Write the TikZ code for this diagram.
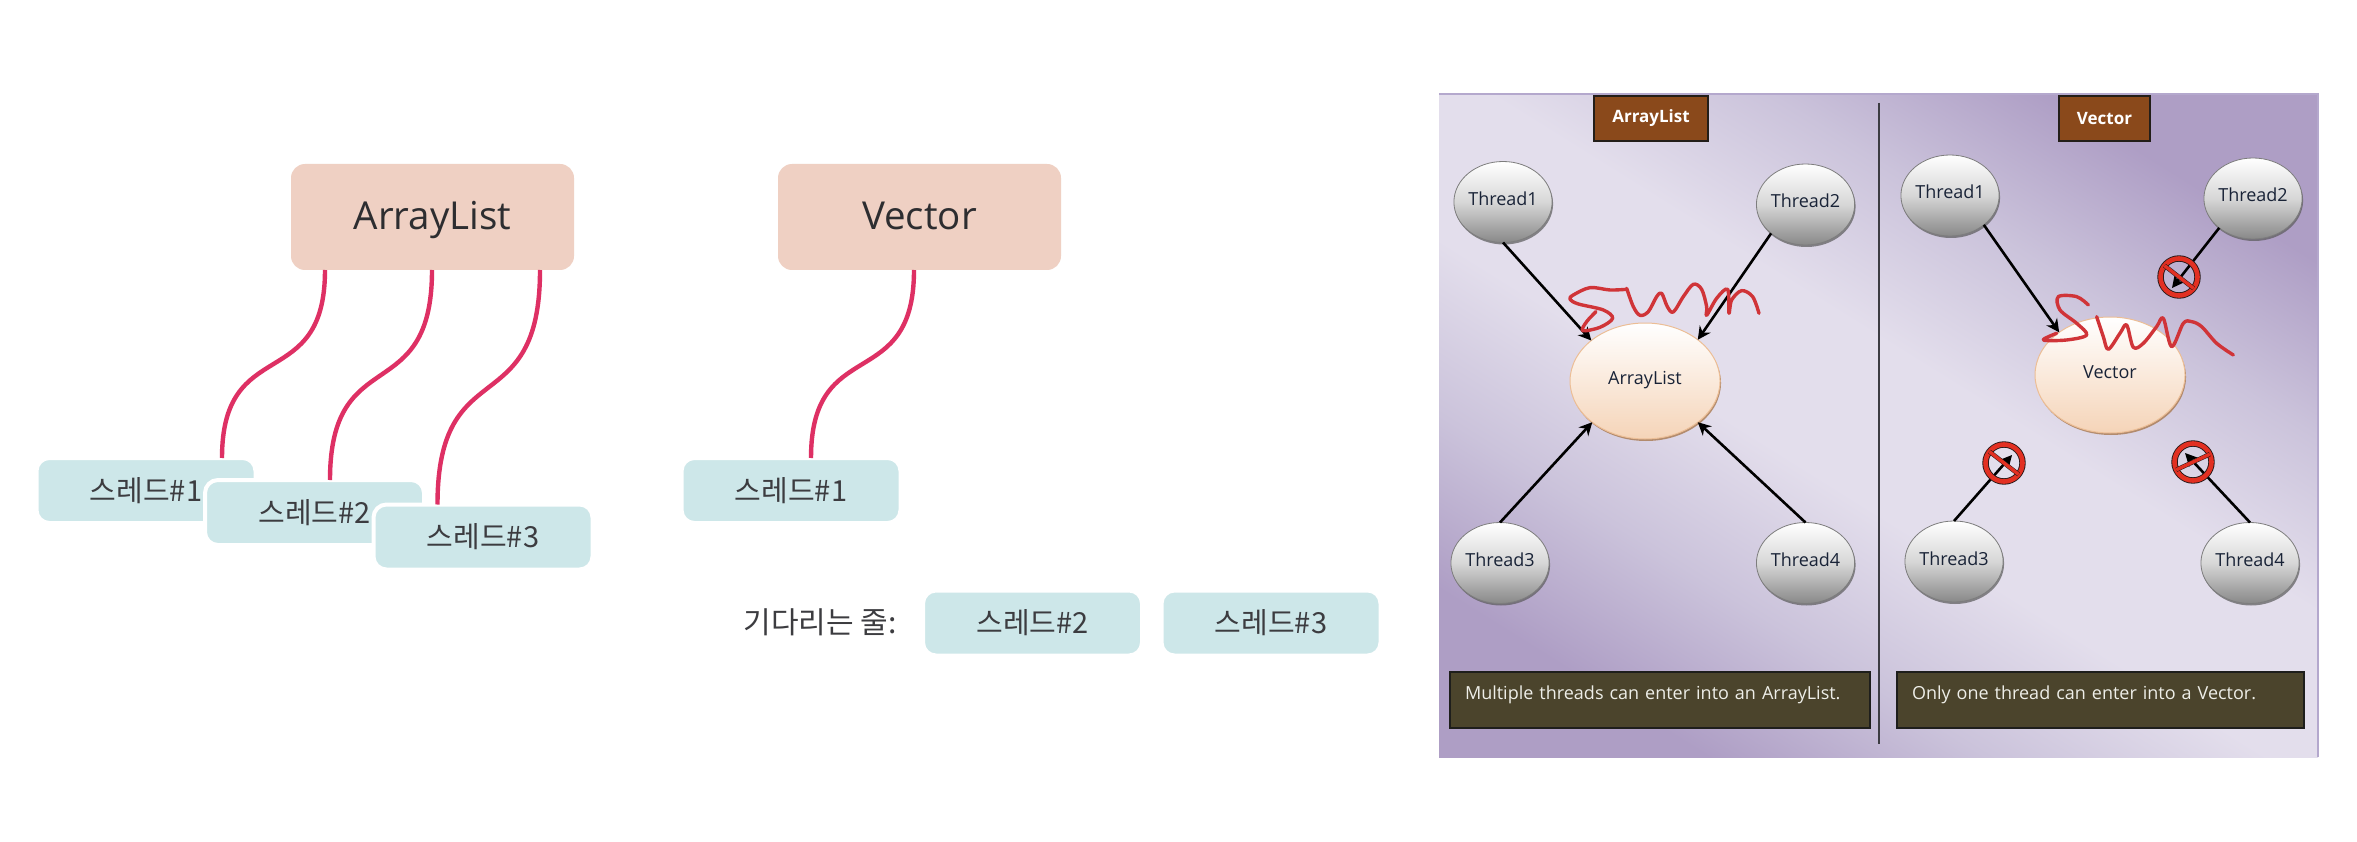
\documentclass[tikz,border=0pt]{standalone}
\usepackage{fontspec}
\usetikzlibrary{shapes.geometric,arrows.meta,shadows}
\newfontfamily\osf{Open Sans}
\newfontfamily\krf{Noto Sans CJK KR}
\definecolor{pdark}{HTML}{AE9EC5}
\definecolor{pmid}{HTML}{CBC3DB}
\definecolor{plight}{HTML}{E3DEEC}
\pgfdeclareverticalshading{panelbg}{100bp}{color(0bp)=(pdark); color(25bp)=(pdark); color(35bp)=(pmid); color(45bp)=(plight); color(55bp)=(plight); color(65bp)=(pmid); color(75bp)=(pdark); color(100bp)=(pdark)}
\tikzset{
  x=1pt,y=-1pt,
  titlebox/.style={rectangle,rounded corners=14pt,fill={rgb,255:red,239;green,208;blue,195},inner sep=0pt,outer sep=0pt,minimum width=283pt,minimum height=106pt,text height=32pt,text depth=6pt,text={rgb,255:red,45;green,45;blue,48},font=\osf\fontsize{38.5}{40}\selectfont},
  threadbox/.style={rectangle,rounded corners=13pt,fill={rgb,255:red,205;green,231;blue,233},draw=white,line width=4pt,inner sep=0pt,outer sep=0pt,minimum width=219pt,minimum height=65pt,text={rgb,255:red,60;green,60;blue,64},font=\krf\fontsize{29}{31}\selectfont},
  waitlabel/.style={inner sep=0pt,text={rgb,255:red,60;green,60;blue,64},font=\krf\fontsize{30}{32}\selectfont},
  wire/.style={draw={rgb,255:red,222;green,48;blue,100},line width=4.4pt},
  panelbox/.style={rectangle,inner sep=0pt,outer sep=0pt,minimum width=879pt,minimum height=663pt,shading=panelbg,shading angle=-32},
  paneledge/.style={draw={rgb,255:red,180;green,168;blue,205},line width=1.2pt},
  divider/.style={draw={rgb,255:red,60;green,60;blue,66},line width=1.6pt},
  tagbox/.style={rectangle,inner sep=0pt,outer sep=0pt,fill={rgb,255:red,138;green,73;blue,27},draw={rgb,255:red,35;green,30;blue,25},line width=1.2pt,minimum height=45pt,text=white,font=\osf\bfseries\fontsize{17}{19}\selectfont},
  ball/.style={ellipse,inner sep=0pt,outer sep=0pt,minimum width=95pt,minimum height=81pt,top color=white,bottom color={rgb,255:red,136;green,136;blue,136},middle color={rgb,255:red,215;green,215;blue,215},draw={rgb,255:red,125;green,125;blue,125},line width=.8pt,text height=13pt,text depth=6pt,text={rgb,255:red,25;green,35;blue,55},font=\osf\fontsize{18}{20}\selectfont,drop shadow={shadow xshift=1pt,shadow yshift=-2pt,fill={rgb,255:red,90;green,90;blue,90},opacity=.7}},
  hub/.style={ellipse,inner sep=0pt,outer sep=0pt,minimum width=150pt,minimum height=116pt,top color=white,bottom color={rgb,255:red,245;green,212;blue,184},draw={rgb,255:red,236;green,190;blue,150},line width=1pt,text height=13pt,text depth=6pt,text={rgb,255:red,25;green,35;blue,55},font=\osf\fontsize{18}{20}\selectfont,drop shadow={shadow xshift=1pt,shadow yshift=-2pt,fill={rgb,255:red,165;green,115;blue,70},opacity=.75}},
  caption/.style={rectangle,anchor=west,outer sep=0pt,inner ysep=0pt,inner xsep=15pt,align=left,text height=6pt,text depth=8pt,fill={rgb,255:red,75;green,68;blue,44},draw={rgb,255:red,30;green,30;blue,28},line width=1.2pt,minimum height=56pt,text={rgb,255:red,238;green,238;blue,232},font=\osf\fontsize{18}{20}\selectfont},
  flow/.style={draw=black,line width=2.6pt,-{Stealth[length=13pt,width=13pt]}},
  nosign/.style={ellipse,inner sep=0pt,outer sep=0pt,draw={rgb,255:red,40;green,25;blue,25},double={rgb,255:red,226;green,48;blue,34},double distance=4.6pt,line width=.9pt,minimum width=37pt,minimum height=37pt},
  nobar/.style={draw={rgb,255:red,40;green,25;blue,25},double={rgb,255:red,226;green,48;blue,34},double distance=3.4pt,line width=.5pt},
  scribble/.style={draw={rgb,255:red,208;green,52;blue,56},line width=3.4pt,line cap=round,line join=round}
}
\begin{document}
\begin{tikzpicture}
\useasboundingbox (0,0) rectangle (2357,842);
\fill[white] (0,0) rectangle (2357,842);
% left diagrams
\node[titlebox] (al) at (432.5,217) {ArrayList};
\node[titlebox] (vc) at (919.5,217) {Vector};
\node[threadbox] (a1) at (146,490.5) {스레드\#1};
\node[threadbox] (a2) at (314.5,512.5) {스레드\#2};
\node[threadbox] (a3) at (483,537) {스레드\#3};
\node[threadbox] (v1) at (791,490.5) {스레드\#1};
\node[waitlabel] (wl) at (820,622) {기다리는 줄:};
\node[threadbox] (q2) at (1032.5,623) {스레드\#2};
\node[threadbox] (q3) at (1271,623) {스레드\#3};
\draw[wire] ([xshift=-107.5pt]al.south) .. controls +(0,125) and +(0,-125) .. ([xshift=76pt]a1.north);
\draw[wire] ([xshift=-0.5pt]al.south) .. controls +(0,140) and +(0,-140) .. ([xshift=15.5pt]a2.north);
\draw[wire] ([xshift=107.5pt]al.south) .. controls +(0,155) and +(0,-155) .. ([xshift=-45.5pt]a3.north);
\draw[wire] ([xshift=-5.5pt]vc.south) .. controls +(0,125) and +(0,-125) .. ([xshift=20pt]v1.north);
% right panel
\node[panelbox] (bg) at (1878.5,425.5) {};
\draw[paneledge] (bg.north west) -- (bg.north east) -- (bg.south east);
\coordinate (dtop) at (1879,103);
\coordinate (dbot) at (1879,744);
\draw[divider] (dtop) -- (dbot);
\node[tagbox,minimum width=114pt] (tl) at (1651,118.5) {ArrayList};
\node[tagbox,minimum width=91pt] (tv) at (2104.5,118.5) {Vector};
\node[ball] (lt1) at (1503,202) {Thread1};
\node[ball] (lt2) at (1805.5,204.5) {Thread2};
\node[ball] (lt3) at (1500,563) {Thread3};
\node[ball] (lt4) at (1805.5,563) {Thread4};
\node[hub] (lh) at (1645,381) {ArrayList};
\draw[flow] (lt1.south) -- (lh.143);
\draw[flow] (lt2.220) -- (lh.38);
\draw[flow] (lt3.north) -- (lh.218);
\draw[flow] (lt4.north) -- (lh.322);
\node[caption,minimum width=420pt,text width=390pt] (lc) at (1450,700) {Multiple threads can enter into an ArrayList.};
\node[ball] (rt1) at (1950,195.5) {Thread1};
\node[ball] (rt2) at (2253,198.5) {Thread2};
\node[ball] (rt3) at (1954,561.5) {Thread3};
\node[ball] (rt4) at (2250,563) {Thread4};
\node[hub] (rh) at (2110,375) {Vector};
\coordinate (tip2) at (2172,288);
\coordinate (tip3) at (2012,455);
\coordinate (tip4) at (2185,453);
\draw[flow] (rt1.319) -- (rh.140);
\draw[flow] (rt2.221) -- (tip2);
\draw[flow] (rt3.north) -- (tip3);
\draw[flow] (rt4.north) -- (tip4);
\node[nosign] (n2) at (2179,277) {};
\draw[nobar] (n2.142) -- (n2.322);
\node[nosign] (n3) at (2004,463) {};
\draw[nobar] (n3.142) -- (n3.322);
\node[nosign] (n4) at (2193,462) {};
\draw[nobar] (n4.205) -- (n4.25);
\node[caption,minimum width=407pt,text width=377pt] (rc) at (1897,700) {Only one thread can enter into a Vector.};
% handwritten
\begin{scope}[shift={(1430,80)},x=0.3333pt,y=-0.3333pt]
\draw[scribble] plot[smooth,tension=.55] coordinates {(590,628) (540,630) (480,623) (430,645) (420,658) (445,672) (520,690) (548,715) (510,742) (458,752) (470,725) (498,695)};
\draw[scribble] plot[smooth,tension=.55] coordinates {(590,625) (610,680) (630,706) (655,695) (680,650) (695,640) (712,680) (730,696) (760,650) (790,613) (815,628) (830,680) (830,706) (860,655) (893,628) (897,700) (905,660) (935,632) (968,650) (987,700)};
\end{scope}
\begin{scope}[shift={(1870,80)},x=0.3333pt,y=-0.3333pt]
\draw[scribble] plot[smooth,tension=.55] coordinates {(655,675) (620,650) (565,650) (570,690) (620,730) (650,765) (590,780) (520,780) (560,760)};
\draw[scribble] plot[smooth,tension=.55] coordinates {(680,710) (700,770) (715,808) (750,760) (770,735) (790,802) (820,790) (860,740) (880,715) (905,800) (940,730) (965,725) (995,740) (1040,790) (1090,825)};
\end{scope}
\end{tikzpicture}
\end{document}
